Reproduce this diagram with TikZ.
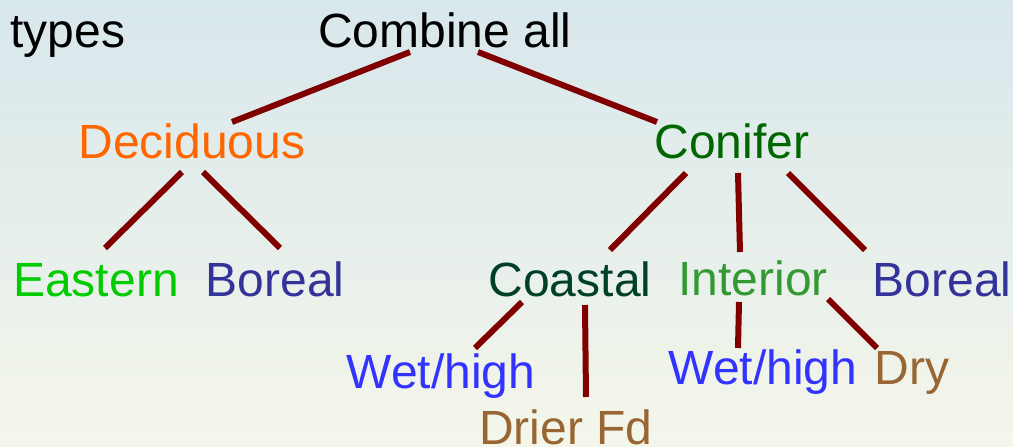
\documentclass[tikz,border=0pt]{standalone}
\usepackage{fontspec}
\setmainfont{Liberation Sans}
\definecolor{bgtop}{RGB}{216,231,236}
\definecolor{bgbot}{RGB}{244,246,234}
\definecolor{branch}{RGB}{128,0,0}
\definecolor{decid}{RGB}{255,102,0}
\definecolor{conif}{RGB}{0,102,0}
\definecolor{east}{RGB}{0,204,0}
\definecolor{boreal}{RGB}{51,51,153}
\definecolor{coast}{RGB}{0,64,40}
\definecolor{inter}{RGB}{51,153,51}
\definecolor{wet}{RGB}{51,51,255}
\definecolor{dry}{RGB}{153,102,51}
\tikzset{
  label/.style={anchor=base,inner sep=0pt,font=\fontsize{48}{56}\selectfont},
  branchline/.style={branch,line width=6pt}
}
\begin{document}
\begin{tikzpicture}[x=1pt,y=-1pt]
		\shade[top color=bgtop,bottom color=bgbot] (0,0) rectangle (1013,447);
		\useasboundingbox (0,0) rectangle (1013,447);
		% top level
		\node[label] (types) at (68,47) {types};
		\node[label] (root) at (445,47) {Combine all};
		\node[label,decid] (dec) at (192,158) {Deciduous};
		\node[label,conif] (con) at (732,158) {Conifer};
		% second level
		\node[label,east] (eastern) at (96,296) {Eastern};
		\node[label,boreal] (bordec) at (275,296) {Boreal};
		\node[label,coast] (coastal) at (570,296) {Coastal};
		\node[label,inter] (interior) at (753,295) {Interior};
		\node[label,boreal] (borcon) at (942,296) {Boreal};
		% third level
		\node[label,wet] (wetcoast) at (441,388) {Wet/high};
		\node[label,dry] (drier) at (566,444) {Drier Fd};
		\node[label,wet] (wetint) at (763,384) {Wet/high};
		\node[label,dry] (dryint) at (912,384) {Dry};
		% branches
		\draw[branchline] ([shift={(-35,5)}]root.base) -- ([shift={(40,-36)}]dec.base);
		\draw[branchline] ([shift={(33,5)}]root.base) -- ([shift={(-75,-36)}]con.base);
		\draw[branchline] ([shift={(-10,14)}]dec.base) -- ([shift={(9,-48)}]eastern.base);
		\draw[branchline] ([shift={(11,14)}]dec.base) -- ([shift={(5,-48)}]bordec.base);
		\draw[branchline] ([shift={(-46,15)}]con.base) -- ([shift={(40,-46)}]coastal.base);
		\draw[branchline] ([shift={(6,15)}]con.base) -- ([shift={(-13,-43)}]interior.base);
		\draw[branchline] ([shift={(56,15)}]con.base) -- ([shift={(-77,-46)}]borcon.base);
		\draw[branchline] ([shift={(-48,6)}]coastal.base) -- ([shift={(34,-40)}]wetcoast.base);
		\draw[branchline] ([shift={(15,9)}]coastal.base) -- ([shift={(20,-47)}]drier.base);
		\draw[branchline] ([shift={(-14,7)}]interior.base) -- ([shift={(-25,-36)}]wetint.base);
		\draw[branchline] ([shift={(75,4)}]interior.base) -- ([shift={(-35,-36)}]dryint.base);
	\end{tikzpicture}
\end{document}
